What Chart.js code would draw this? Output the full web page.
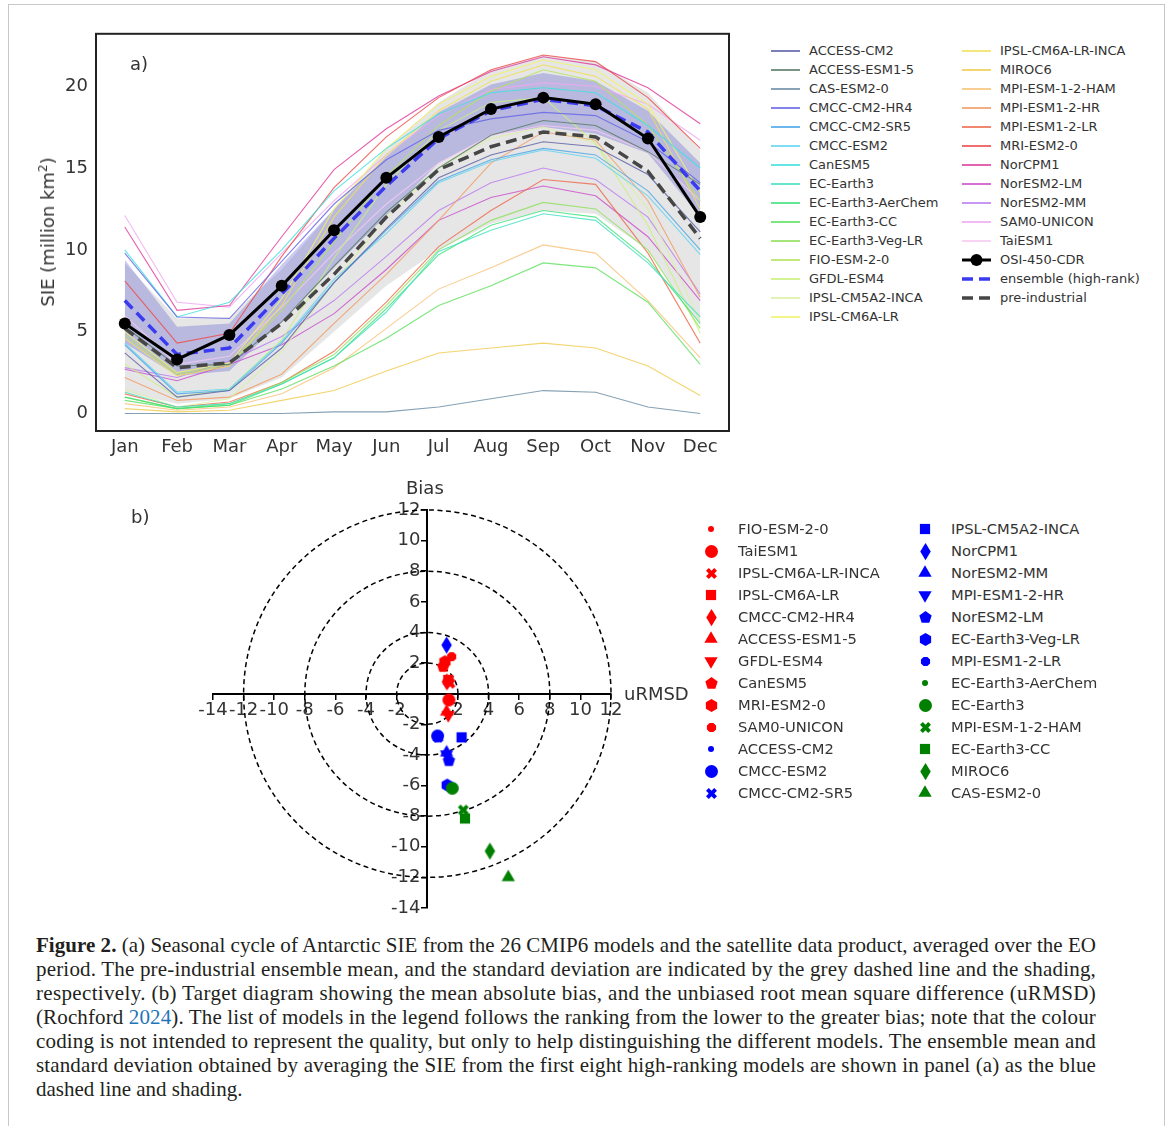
<!DOCTYPE html>
<html>
<head>
<meta charset="utf-8">
<script src="https://cdn.jsdelivr.net/npm/chart.js@4.4.1/dist/chart.umd.min.js"></script>
<style>
  body { margin: 0; background: #fff; font-family: 'DejaVu Sans', sans-serif; color: #333; }
  #page { position: relative; width: 1168px; height: 1126px; overflow: hidden; }
  #frame { position: absolute; left: 8px; top: 4px; width: 1155px; height: 1140px; border: 1px solid #c8c8c8; }
  canvas { position: absolute; }
  .lbl { position: absolute; font-size: 18px; color: #333; white-space: nowrap; line-height: 1; }
  .row { position: absolute; white-space: nowrap; color: #333; }
  .row canvas { position: absolute; }
  .row span { position: absolute; top: 0; }
  #caption { position: absolute; left: 36px; top: 933px; width: 1060px; font-family: 'Liberation Serif', serif; font-size: 21px; line-height: 24px; color: #231f20; }
  #caption div { white-space: nowrap; }
  #caption a { color: #1f75b9; text-decoration: none; }
</style>
</head>
<body>
<div id="page">
  <div id="frame"></div>
  <canvas id="chart-a" width="700" height="465" style="left:40px;top:15px"></canvas>
  <div class="lbl" style="left:130px;top:55px">a)</div>
  <div class="lbl" style="left:47px;top:232px;transform:translate(-50%,-50%) rotate(-90deg)">SIE (million km<sup style="font-size:12px">2</sup>)</div>
  <div id="legend-a"></div>

  <canvas id="chart-b" width="560" height="460" style="left:150px;top:470px"></canvas>
  <div class="lbl" style="left:131px;top:508px">b)</div>
  <div class="lbl" style="left:406px;top:479px">Bias</div>
  <div class="lbl" style="left:624px;top:685px">uRMSD</div>
  <div id="legend-b"></div>

  <div id="caption">
    <div><b>Figure 2.</b> (a) Seasonal cycle of Antarctic SIE from the 26 CMIP6 models and the satellite data product, averaged over the EO</div>
    <div>period. The pre-industrial ensemble mean, and the standard deviation are indicated by the grey dashed line and the shading,</div>
    <div>respectively. (b) Target diagram showing the mean absolute bias, and the unbiased root mean square difference (uRMSD)</div>
    <div>(Rochford <a>2024</a>). The list of models in the legend follows the ranking from the lower to the greater bias; note that the colour</div>
    <div>coding is not intended to represent the quality, but only to help distinguishing the different models. The ensemble mean and</div>
    <div>standard deviation obtained by averaging the SIE from the first eight high-ranking models are shown in panel (a) as the blue</div>
    <div class="last">dashed line and shading.</div>
  </div>
</div>

<script>
// ---- panel a data ----
const months = ['Jan', 'Feb', 'Mar', 'Apr', 'May', 'Jun', 'Jul', 'Aug', 'Sep', 'Oct', 'Nov', 'Dec'];
const sieTicks = [0, 5, 10, 15, 20];

const modelNames = [
    'ACCESS-CM2', 'ACCESS-ESM1-5', 'CAS-ESM2-0', 'CMCC-CM2-HR4', 'CMCC-CM2-SR5', 'CMCC-ESM2',
    'CanESM5', 'EC-Earth3', 'EC-Earth3-AerChem', 'EC-Earth3-CC', 'EC-Earth3-Veg-LR', 'FIO-ESM-2-0',
    'GFDL-ESM4', 'IPSL-CM5A2-INCA', 'IPSL-CM6A-LR', 'IPSL-CM6A-LR-INCA', 'MIROC6', 'MPI-ESM-1-2-HAM',
    'MPI-ESM1-2-HR', 'MPI-ESM1-2-LR', 'MRI-ESM2-0', 'NorCPM1', 'NorESM2-LM', 'NorESM2-MM',
    'SAM0-UNICON', 'TaiESM1'
];
const modelColors = [
    '#5b5ea6', '#557a66', '#6b8ca3', '#6464e6', '#4aa6e8', '#5fd4f0',
    '#3fe0e0', '#40e0c0', '#3ee27a', '#5ee05e', '#8ee05a', '#b4e35c',
    '#c8f07a', '#dcefa0', '#f2f26a', '#f0e05a', '#f0cc50', '#f8c278',
    '#f29a62', '#ee6a4c', '#ee4a4a', '#e03c9c', '#cc4ccc', '#bb7cf0',
    '#f0a8f0', '#f8c8f2'
];
// monthly SIE (million km2), Jan..Dec, same order as modelNames
const modelSie = [
    [3.7, 1.0, 1.4, 4.0, 8.0, 11.3, 14.4, 15.8, 16.6, 16.3, 14.6, 11.1],
    [5.3, 2.9, 3.0, 5.6, 9.0, 12.3, 15.0, 17.0, 17.9, 17.6, 16.0, 14.0],
    [0.0, 0.0, 0.0, 0.0, 0.1, 0.1, 0.4, 0.9, 1.4, 1.3, 0.4, 0.0],
    [9.8, 5.9, 5.8, 9.3, 12.8, 15.5, 17.3, 18.0, 18.4, 18.2, 16.6, 14.1],
    [4.2, 1.2, 1.4, 4.3, 8.0, 11.2, 14.2, 15.5, 16.2, 15.8, 13.6, 10.0],
    [4.3, 1.3, 1.5, 4.4, 8.2, 11.0, 14.1, 15.4, 16.1, 15.6, 13.3, 9.7],
    [10.0, 5.9, 6.8, 10.0, 13.6, 16.2, 18.3, 19.6, 19.9, 19.6, 17.6, 15.0],
    [1.3, 0.4, 0.6, 1.8, 3.4, 6.2, 9.9, 11.2, 12.2, 11.8, 9.2, 5.9],
    [1.0, 0.3, 0.5, 1.8, 3.4, 6.4, 9.7, 11.5, 12.4, 12.0, 9.4, 5.5],
    [0.8, 0.3, 0.5, 1.5, 2.9, 4.6, 6.6, 7.8, 9.2, 8.9, 6.8, 3.0],
    [1.0, 0.3, 0.6, 1.9, 3.6, 6.6, 10.0, 11.8, 12.9, 12.5, 10.0, 5.2],
    [4.8, 2.4, 3.0, 6.3, 10.5, 14.5, 17.6, 19.7, 21.0, 20.3, 17.6, 13.0],
    [3.0, 1.0, 1.5, 4.5, 9.5, 14.0, 17.3, 19.0, 19.3, 16.5, 11.5, 4.9],
    [1.5, 0.4, 0.9, 3.8, 8.0, 12.0, 15.0, 16.8, 17.5, 16.5, 12.5, 5.6],
    [5.0, 2.5, 3.1, 7.0, 12.5, 16.2, 18.9, 20.6, 21.6, 21.0, 18.9, 13.5],
    [4.6, 2.3, 2.9, 6.6, 12.0, 15.8, 18.5, 20.3, 21.3, 20.6, 18.6, 12.5],
    [0.3, 0.1, 0.2, 0.8, 1.4, 2.6, 3.7, 4.0, 4.3, 4.0, 2.9, 1.1],
    [0.6, 0.2, 0.4, 1.2, 2.8, 5.2, 7.6, 8.9, 10.3, 9.8, 6.9, 3.4],
    [2.2, 0.8, 1.0, 2.4, 5.5, 8.5, 11.8, 15.3, 17.2, 16.7, 13.0, 7.1],
    [1.2, 0.4, 0.7, 1.9, 3.8, 6.8, 10.2, 12.4, 14.3, 14.0, 9.8, 4.3],
    [8.1, 4.3, 4.9, 9.6, 13.8, 16.9, 19.3, 21.0, 21.9, 21.5, 19.3, 16.2],
    [11.4, 6.3, 6.6, 10.8, 14.9, 17.4, 19.4, 20.9, 21.8, 21.3, 19.9, 17.7],
    [2.7, 2.0, 3.0, 4.2, 6.1, 8.8, 11.8, 13.2, 13.9, 13.3, 10.8, 6.9],
    [2.8, 2.2, 3.2, 4.7, 6.9, 9.6, 12.4, 14.1, 15.0, 14.3, 12.0, 7.3],
    [12.1, 6.8, 6.5, 9.8, 13.0, 15.8, 18.2, 19.8, 20.2, 20.0, 18.9, 16.7],
    [6.0, 3.0, 3.5, 6.5, 9.8, 12.8, 15.3, 17.0, 17.6, 17.3, 16.0, 13.0]
];
const osiSie = [5.5, 3.3, 4.8, 7.8, 11.2, 14.4, 16.9, 18.6, 19.3, 18.9, 16.8, 12.0];
const ensembleSie = [6.9, 3.6, 4.0, 7.3, 10.7, 13.9, 16.8, 18.5, 19.2, 18.8, 17.2, 13.6];
const ensembleUpper = [9.4, 5.3, 5.5, 9.1, 12.5, 15.7, 18.4, 20.1, 20.8, 20.3, 18.5, 15.3];
const ensembleLower = [4.3, 2.3, 2.6, 5.6, 8.9, 12.1, 15.3, 17.0, 17.5, 17.1, 15.9, 12.0];
const preSie = [5.2, 2.8, 3.1, 5.5, 8.5, 12.0, 14.9, 16.3, 17.2, 16.9, 14.8, 10.7];
const preUpper = [9.2, 5.8, 5.9, 8.8, 12.5, 16.2, 19.0, 21.0, 21.9, 21.5, 19.6, 16.1];
const preLower = [1.3, 0.6, 0.9, 2.2, 5.0, 7.8, 10.0, 11.6, 12.4, 12.2, 10.0, 5.4];

// ---- panel b data (target diagram) ----
const targetNames = [
    'FIO-ESM-2-0', 'TaiESM1', 'IPSL-CM6A-LR-INCA', 'IPSL-CM6A-LR', 'CMCC-CM2-HR4', 'ACCESS-ESM1-5',
    'GFDL-ESM4', 'CanESM5', 'MRI-ESM2-0', 'SAM0-UNICON', 'ACCESS-CM2', 'CMCC-ESM2', 'CMCC-CM2-SR5',
    'IPSL-CM5A2-INCA', 'NorCPM1', 'NorESM2-MM', 'MPI-ESM1-2-HR', 'NorESM2-LM', 'EC-Earth3-Veg-LR',
    'MPI-ESM1-2-LR', 'EC-Earth3-AerChem', 'EC-Earth3', 'MPI-ESM-1-2-HAM', 'EC-Earth3-CC', 'MIROC6', 'CAS-ESM2-0'
];
const targetUrmsd = [1.45, 1.41, 1.48, 1.37, 1.28, 1.26, 1.37, 1.04, 1.15, 1.59, 0.70, 0.67, 0.70,
                     2.24, 1.26, 1.26, 1.26, 1.41, 1.30, 1.30, 1.60, 1.63, 2.35, 2.46, 4.09, 5.29];
const targetBias = [-0.35, -0.41, 0.68, 0.90, 0.78, -1.18, -1.39, 1.77, 2.09, 2.42, -2.75, -2.76, -2.85,
                    -2.85, 3.18, -3.85, -3.95, -4.38, -5.97, -6.00, -6.10, -6.18, -7.60, -8.15, -10.28, -12.00];
const targetColors = ['red', 'red', 'red', 'red', 'red', 'red', 'red', 'red', 'red', 'red',
                      'blue', 'blue', 'blue', 'blue', 'blue', 'blue', 'blue', 'blue', 'blue', 'blue',
                      'green', 'green', 'green', 'green', 'green', 'green'];
const targetMarkers = ['.', 'o', 'X', 's', 'd', '^', 'v', 'p', 'h', '8',
                       '.', 'o', 'X', 's', 'd', '^', 'v', 'p', 'h', '8',
                       '.', 'o', 'X', 's', 'd', '^'];
const targetTicks = [-14, -12, -10, -8, -6, -4, -2, 0, 2, 4, 6, 8, 10, 12];
const ringRadii = [2, 4, 8, 12];

const colorMap = { red: '#ff0000', blue: '#0000ff', green: '#008000' };

Chart.defaults.font.family = "'DejaVu Sans', sans-serif";
Chart.defaults.color = '#333';

const toXY = (vals) => vals.map((v, i) => ({ x: i, y: v }));

// marker glyphs (matplotlib-like shapes)
function markerCanvas(shape, color, size) {
    const s = Math.ceil(size + 6);
    const c = document.createElement('canvas');
    c.width = s; c.height = s;
    const g = c.getContext('2d');
    g.fillStyle = color;
    g.translate(s / 2, s / 2);
    const r = size / 2;
    const poly = (n, rad, start) => {
        for (let k = 0; k < n; k++) {
            const a = (start + k * 360 / n) * Math.PI / 180;
            const px = rad * Math.cos(a), py = rad * Math.sin(a);
            if (k === 0) g.moveTo(px, py); else g.lineTo(px, py);
        }
    };
    g.beginPath();
    if (shape === '.') g.arc(0, 0, r * 0.5, 0, 2 * Math.PI);
    else if (shape === 'o') g.arc(0, 0, r, 0, 2 * Math.PI);
    else if (shape === 's') g.rect(-r * 0.85, -r * 0.85, r * 1.7, r * 1.7);
    else if (shape === 'd') { g.moveTo(0, -r * 1.15); g.lineTo(r * 0.7, 0); g.lineTo(0, r * 1.15); g.lineTo(-r * 0.7, 0); }
    else if (shape === '^') poly(3, r * 1.1, -90);
    else if (shape === 'v') poly(3, r * 1.1, 90);
    else if (shape === 'p') poly(5, r * 1.0, -90);
    else if (shape === 'h') poly(6, r * 1.0, -90);
    else if (shape === '8') poly(8, r * 0.9, 22.5);
    else if (shape === 'X') {
        const t = r * 0.36, L = r * 1.05;
        const pts = [[-t, -L], [t, -L], [t, -t], [L, -t], [L, t], [t, t], [t, L], [-t, L], [-t, t], [-L, t], [-L, -t], [-t, -t]];
        const cs = Math.SQRT1_2;
        pts.forEach((p, k) => {
            const px = (p[0] - p[1]) * cs, py = (p[0] + p[1]) * cs;
            if (k === 0) g.moveTo(px, py); else g.lineTo(px, py);
        });
    }
    g.closePath();
    g.fill();
    return c;
}
const markerSize = { '.': 12, 'o': 13, 'X': 11, 's': 12, 'd': 15, '^': 14, 'v': 14, 'p': 13, 'h': 13, '8': 11 };

// ---- chart a ----
const datasetsA = [];
datasetsA.push({ label: 'OSI-450-CDR', data: toXY(osiSie), borderColor: '#000', borderWidth: 3, pointRadius: 6,
    pointBackgroundColor: '#000', pointBorderWidth: 0, order: 0 });
datasetsA.push({ label: 'ensemble (high-rank)', data: toXY(ensembleSie), borderColor: '#3a3af0', borderWidth: 3.5,
    borderDash: [11, 6], pointRadius: 0, order: 1 });
datasetsA.push({ label: 'pre-industrial', data: toXY(preSie), borderColor: '#464646', borderWidth: 3.5,
    borderDash: [11, 6], pointRadius: 0, order: 2 });
modelNames.forEach((name, i) => {
    datasetsA.push({ label: name, data: toXY(modelSie[i]), borderColor: modelColors[i] + 'd0', borderWidth: 1.1,
        pointRadius: 0, order: 3 });
});
datasetsA.push({ label: 'ens-upper', data: toXY(ensembleUpper), borderColor: 'transparent', borderWidth: 0,
    pointRadius: 0, fill: '+1', backgroundColor: 'rgba(70,70,205,0.28)', order: 10 });
datasetsA.push({ label: 'ens-lower', data: toXY(ensembleLower), borderColor: 'transparent', borderWidth: 0,
    pointRadius: 0, fill: false, order: 10 });
datasetsA.push({ label: 'pre-upper', data: toXY(preUpper), borderColor: 'transparent', borderWidth: 0,
    pointRadius: 0, fill: '+1', backgroundColor: 'rgba(200,200,200,0.45)', order: 11 });
datasetsA.push({ label: 'pre-lower', data: toXY(preLower), borderColor: 'transparent', borderWidth: 0,
    pointRadius: 0, fill: false, order: 11 });

const frameA = {
    id: 'frameA',
    afterDatasetsDraw(chart) {
        const { ctx, chartArea: a } = chart;
        ctx.save();
        ctx.strokeStyle = '#222';
        ctx.lineWidth = 2;
        ctx.strokeRect(a.left, a.top, a.right - a.left, a.bottom - a.top);
        ctx.restore();
    }
};

new Chart(document.getElementById('chart-a'), {
    type: 'line',
    data: { datasets: datasetsA },
    options: {
        responsive: false,
        animation: false,
        layout: { padding: { left: 16, top: 0, right: 11, bottom: 19 } },
        plugins: { legend: { display: false }, tooltip: { enabled: false } },
        scales: {
            x: {
                type: 'linear', min: -0.55, max: 11.55,
                afterBuildTicks: (s) => { s.ticks = months.map((m, i) => ({ value: i })); },
                afterFit: (s) => { s.height = 30; },
                ticks: { callback: (v) => months[v], font: { size: 18 }, color: '#333', padding: 6, autoSkip: false, maxRotation: 0 },
                grid: { display: false, drawTicks: false },
                border: { display: false }
            },
            y: {
                min: -1.07, max: 23.2,
                afterBuildTicks: (s) => { s.ticks = sieTicks.map(v => ({ value: v })); },
                afterFit: (s) => { s.width = 40; },
                ticks: { font: { size: 18 }, color: '#333', padding: 8 },
                grid: { display: false, drawTicks: false },
                border: { display: false }
            }
        }
    },
    plugins: [frameA]
});

// legend a
const legA = document.getElementById('legend-a');
function lineSample(kind, color) {
    const c = document.createElement('canvas');
    c.width = 32; c.height = 16;
    const g = c.getContext('2d');
    g.strokeStyle = color;
    if (kind === 'model') { g.lineWidth = 1.6; g.beginPath(); g.moveTo(0, 8); g.lineTo(29, 8); g.stroke(); }
    else if (kind === 'osi') {
        g.lineWidth = 3; g.beginPath(); g.moveTo(0, 8); g.lineTo(29, 8); g.stroke();
        g.fillStyle = color; g.beginPath(); g.arc(14.5, 8, 6, 0, 2 * Math.PI); g.fill();
    } else {
        g.lineWidth = 3.5; g.setLineDash([11, 6]); g.beginPath(); g.moveTo(0, 8); g.lineTo(29, 8); g.stroke();
    }
    return c;
}
const legAItems = modelNames.map((n, i) => ({ name: n, kind: 'model', color: modelColors[i] }))
    .concat([
        { name: 'OSI-450-CDR', kind: 'osi', color: '#000' },
        { name: 'ensemble (high-rank)', kind: 'dash', color: '#3a3af0' },
        { name: 'pre-industrial', kind: 'dash', color: '#464646' }
    ]);
legAItems.forEach((it, i) => {
    const col = i < 15 ? 0 : 1;
    const rowIdx = col === 0 ? i : i - 15;
    const row = document.createElement('div');
    row.className = 'row';
    row.style.left = (col === 0 ? 771 : 962) + 'px';
    row.style.top = (51 + 19 * rowIdx - 8) + 'px';
    row.style.fontSize = '13px';
    const cv = lineSample(it.kind, it.color);
    cv.style.left = '0px'; cv.style.top = '0px';
    row.appendChild(cv);
    const sp = document.createElement('span');
    sp.textContent = it.name;
    sp.style.left = '38px';
    sp.style.lineHeight = '16px';
    row.appendChild(sp);
    legA.appendChild(row);
});

// ---- chart b ----
const ringsPlugin = {
    id: 'rings',
    beforeDatasetsDraw(chart) {
        const { ctx, scales: { x, y } } = chart;
        const cx = x.getPixelForValue(0), cy = y.getPixelForValue(0);
        ctx.save();
        ctx.strokeStyle = '#000';
        ctx.lineWidth = 1.5;
        ctx.setLineDash([5, 3.5]);
        ringRadii.forEach(r => {
            const rx = x.getPixelForValue(r) - cx;
            const ry = cy - y.getPixelForValue(r);
            ctx.beginPath();
            ctx.ellipse(cx, cy, rx, ry, 0, 0, 2 * Math.PI);
            ctx.stroke();
        });
        ctx.restore();
    }
};

const datasetsB = targetNames.map((name, i) => ({
    label: name,
    data: [{ x: targetUrmsd[i], y: targetBias[i] }],
    pointStyle: markerCanvas(targetMarkers[i], colorMap[targetColors[i]], markerSize[targetMarkers[i]]),
    pointRadius: 6,
    clip: false,
    order: targetNames.length - i
}));

const tickLabel = (v) => (v === 0 ? '' : String(v));

new Chart(document.getElementById('chart-b'), {
    type: 'scatter',
    data: { datasets: datasetsB },
    options: {
        responsive: false,
        animation: false,
        layout: { padding: { left: 63, right: 99, top: 40, bottom: 22 } },
        plugins: { legend: { display: false }, tooltip: { enabled: false } },
        scales: {
            x: {
                type: 'linear', min: -14, max: 12, position: { y: 0 },
                afterBuildTicks: (s) => { s.ticks = targetTicks.map(v => ({ value: v })); },
                afterFit: (s) => { s.height = 0; },
                ticks: { callback: tickLabel, font: { size: 18 }, color: '#333', padding: 1, autoSkip: false, maxRotation: 0 },
                grid: { drawOnChartArea: false, color: '#000', tickLength: 5, lineWidth: 1.5 },
                border: { color: '#000', width: 2 }
            },
            y: {
                type: 'linear', min: -14, max: 12, position: { x: 0 },
                afterBuildTicks: (s) => { s.ticks = targetTicks.map(v => ({ value: v })); },
                afterFit: (s) => { s.width = 0; },
                ticks: { callback: () => '', autoSkip: false },
                grid: { drawOnChartArea: false, color: '#000', tickLength: 5, lineWidth: 1.5 },
                border: { color: '#000', width: 2 }
            },
            // labels of the bias axis, set just left of the axis line
            yLabels: {
                type: 'linear', axis: 'y', min: -14, max: 12, position: { x: -0.45 },
                afterBuildTicks: (s) => { s.ticks = targetTicks.map(v => ({ value: v })); },
                afterFit: (s) => { s.width = 0; },
                ticks: { callback: tickLabel, font: { size: 18 }, color: '#333', autoSkip: false },
                grid: { display: false, drawTicks: false },
                border: { display: false }
            }
        }
    },
    plugins: [ringsPlugin]
});

// legend b
const legB = document.getElementById('legend-b');
targetNames.forEach((name, i) => {
    const col = i < 13 ? 0 : 1;
    const rowIdx = col === 0 ? i : i - 13;
    const row = document.createElement('div');
    row.className = 'row';
    const mx = col === 0 ? 711 : 925;
    const cy = 529 + 22 * rowIdx;
    row.style.left = (mx - 10) + 'px';
    row.style.top = (cy - 10) + 'px';
    row.style.fontSize = '14.7px';
    const mk = markerCanvas(targetMarkers[i], colorMap[targetColors[i]], markerSize[targetMarkers[i]]);
    mk.style.left = (10 - mk.width / 2) + 'px';
    mk.style.top = (10 - mk.height / 2) + 'px';
    row.appendChild(mk);
    const sp = document.createElement('span');
    sp.textContent = name;
    sp.style.left = (col === 0 ? 37 : 36) + 'px';
    sp.style.lineHeight = '20px';
    row.appendChild(sp);
    legB.appendChild(row);
});

// caption: fit each full line to the column width
document.querySelectorAll('#caption div').forEach((d) => {
    d.style.display = 'inline-block';
    const w = d.getBoundingClientRect().width;
    if (!d.classList.contains('last')) {
        const n = d.textContent.length;
        d.style.letterSpacing = ((1060 - w) / n).toFixed(3) + 'px';
    }
    d.style.display = 'block';
});
</script>
</body>
</html>
